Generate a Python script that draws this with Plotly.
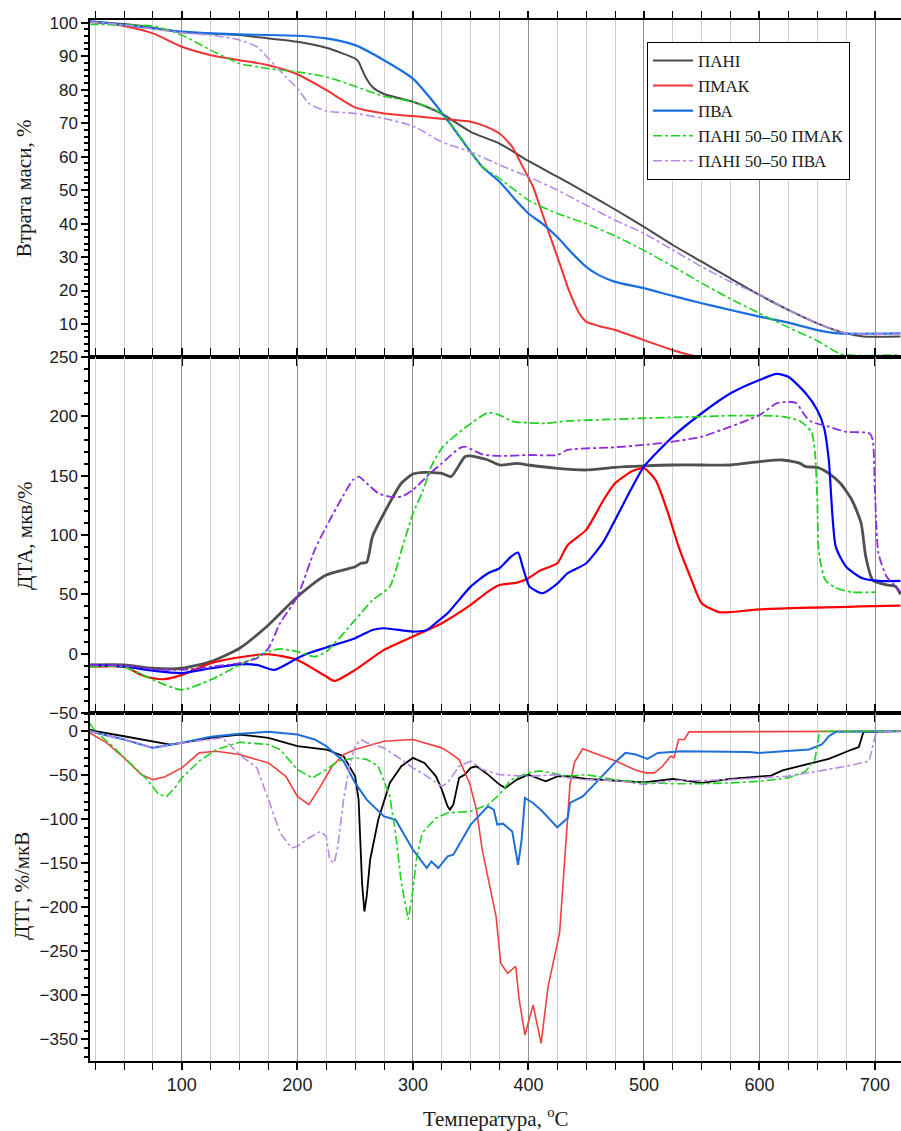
import plotly.graph_objects as go
from plotly.subplots import make_subplots

SERIES = ["ПАНІ", "ПМАК", "ПВА", "ПАНІ 50–50 ПМАК", "ПАНІ 50–50 ПВА"]

# ---------------- TG (mass loss, %) ----------------
TG_PANI_T = [20, 50, 75, 100, 150, 175, 200, 225, 250, 253, 256, 259, 265, 275, 300, 325, 350, 375, 400, 425, 450, 475, 500, 525, 550, 575, 600, 625, 650, 675, 690, 722]
TG_PANI = [100.3, 99.6, 98.5, 97.2, 96.3, 95.3, 94.3, 92.5, 89.3, 88.3, 86, 83.8, 80.8, 78.7, 76.4, 72.8, 67.4, 63.9, 58.7, 54, 49.2, 44.2, 39, 33.6, 28.6, 23.6, 18.7, 14.2, 10.2, 7.2, 6.3, 6.3]

TG_PMAK_T = [20, 35, 50, 75, 100, 125, 150, 175, 200, 225, 250, 275, 300, 331, 350, 360, 375, 386, 395, 404, 412, 418, 427, 435, 444, 450, 461, 475, 500, 525, 545, 620]
TG_PMAK = [100.2, 99.8, 99.0, 96.8, 92.8, 90.3, 88.8, 87.3, 84.6, 79.9, 74.7, 72.9, 72.1, 71.1, 70.4, 69.4, 66.9, 62.9, 57, 51, 43, 37, 28.1, 20.1, 13.2, 10.7, 9.4, 8.2, 5.2, 2.2, 0.4, 0.3]

TG_PVA_T = [20, 50, 75, 100, 125, 150, 200, 225, 250, 275, 300, 315, 332, 350, 360, 375, 389, 400, 412, 425, 438, 450, 461, 475, 500, 525, 550, 575, 600, 625, 650, 669, 722]
TG_PVA = [100.5, 99.3, 98.3, 97.3, 96.8, 96.5, 96.1, 95.3, 93.3, 88.8, 83.3, 77.5, 69.9, 61.4, 57, 52.5, 47, 43, 40, 36, 31.1, 27.1, 24.6, 22.6, 20.7, 18.4, 16.2, 14.2, 12.2, 10.4, 8.2, 7.2, 7.2]

TG_MIX1_T = [20, 50, 75, 100, 125, 150, 175, 200, 225, 250, 275, 300, 325, 337, 350, 360, 375, 400, 425, 450, 475, 500, 525, 550, 575, 600, 625, 650, 671, 722]
TG_MIX1 = [99.5, 99.3, 99, 96.3, 91.8, 87.8, 86.3, 85.3, 83.8, 81, 78, 76.4, 72.9, 67.9, 61.5, 57, 53.5, 47, 43, 40, 36.3, 32, 27.2, 22.2, 17.5, 13.2, 9, 5, 1, 0.8]

TG_MIX2_T = [20, 50, 100, 125, 150, 165, 175, 190, 200, 210, 225, 250, 275, 300, 325, 350, 375, 400, 425, 450, 475, 500, 525, 550, 575, 600, 625, 650, 675, 685, 722]
TG_MIX2 = [100.3, 99.3, 97, 96.3, 94.8, 92.8, 89.3, 83.8, 80.4, 75.9, 73.6, 72.9, 71.4, 69.1, 64.4, 61.4, 57.5, 54, 50, 45.5, 41, 37.1, 32.1, 27.1, 22.6, 18.7, 14.2, 10.2, 7.2, 7, 7]

# ---------------- DTA, мкВ/% ----------------
DTA_PANI_T = [20, 50, 75, 100, 125, 150, 175, 200, 225, 250, 255, 260, 265, 275, 290, 300, 310, 325, 333, 345, 350, 365, 375, 390, 400, 425, 450, 475, 500, 525, 550, 575, 600, 620, 635, 640, 650, 660, 670, 680, 688, 692, 698, 710, 718, 722]
DTA_PANI = [-9.5, -9.5, -12.3, -12.3, -6.7, 4.6, 24.2, 48, 66.3, 73.3, 76.2, 77, 98.6, 118.3, 143.6, 151.4, 152.8, 152, 149.2, 166, 166.6, 163.2, 159, 160.4, 159, 156.2, 154.8, 157, 158.2, 159, 159, 159, 161.8, 163.2, 160.4, 157.6, 157, 152, 143.6, 129.5, 109.9, 81.8, 62.1, 57.9, 56.5, 50]

DTA_PMAK_T = [20, 50, 65, 75, 85, 100, 125, 150, 175, 200, 225, 232, 250, 275, 300, 325, 350, 365, 375, 390, 400, 410, 425, 434, 450, 465, 475, 490, 500, 510, 520, 530, 540, 550, 565, 575, 600, 722]
DTA_PMAK = [-11, -11, -17.9, -20.7, -21.5, -17.9, -8, -3, -0.5, -5.3, -19.3, -23, -13.7, 3.2, 14.4, 25.7, 41.1, 52.3, 57.9, 59.9, 63.6, 70, 76.2, 91.6, 104.3, 129.5, 143.6, 154, 156.2, 146.4, 121, 90.2, 65, 42.5, 35, 35, 37.4, 40.5]

DTA_PVA_T = [20, 50, 75, 100, 125, 150, 165, 180, 200, 210, 225, 250, 265, 275, 300, 312, 320, 330, 350, 365, 375, 385, 391, 395, 401, 412, 425, 434, 450, 465, 475, 490, 500, 525, 550, 575, 600, 615, 625, 640, 650, 656, 660, 666, 675, 689, 703, 722]
DTA_PVA = [-9.5, -11, -14.3, -16.3, -12.3, -9, -9.5, -13.7, -3.8, 0.5, 5.2, 13, 20, 21.4, 18.6, 20, 26, 34, 56.5, 67.8, 72, 81.8, 85.2, 73.3, 56.5, 50.9, 59, 67.8, 76.2, 94.4, 112.7, 140.7, 157.6, 182.9, 202.6, 219.4, 230.6, 235.7, 233.4, 219.4, 205.3, 190, 163.2, 90.2, 73.3, 63.6, 61.3, 61.3]

DTA_MIX1_T = [20, 50, 75, 100, 125, 150, 175, 185, 200, 215, 225, 250, 265, 280, 291, 300, 309, 316, 326, 346, 365, 375, 387, 400, 415, 434, 475, 500, 550, 575, 600, 620, 635, 645, 648, 650, 651.5, 657, 666, 680, 700]
DTA_MIX1 = [-11, -11, -22, -30.5, -22, -9.5, 1.7, 4, 1.7, -2.5, 1.7, 28.4, 45, 56.5, 90, 118, 138, 158, 174.4, 191, 203, 201.1, 195.5, 194.6, 194.1, 196.1, 197.5, 198.4, 199.8, 200.6, 200.6, 199.8, 196.1, 187, 170, 130, 85, 62, 55.5, 51.8, 51.8]

DTA_MIX2_T = [20, 50, 75, 100, 125, 150, 165, 175, 185, 200, 215, 225, 240, 248, 253, 260, 270, 280, 290, 300, 315, 325, 340, 345, 360, 375, 400, 425, 434, 475, 500, 525, 550, 575, 600, 615, 625, 632, 640, 645, 660, 675, 695, 698, 700, 703, 710, 718, 722]
DTA_MIX2 = [-9.5, -10, -13, -13.7, -11, -8, -3.8, 4.6, 25.7, 48, 87.4, 107, 133.7, 146.4, 149.2, 143.6, 135.2, 132.3, 132.3, 138, 152, 160.4, 173, 174.4, 168, 166.6, 167.4, 167.4, 171.7, 173.9, 175.9, 178.6, 182.9, 191.3, 201.1, 211, 212.3, 211, 199.8, 195.5, 191.3, 187, 185.7, 180.1, 135, 84.6, 65, 56.5, 52]

# ---------------- DTG, %/мкВ ----------------
DTG_PANI_T = [20, 25, 50, 75, 90, 100, 125, 150, 175, 200, 225, 240, 250, 253, 256, 258, 260, 263, 270, 280, 290, 300, 310, 320, 325, 330, 332, 335, 340, 345, 350, 355, 365, 375, 380, 390, 400, 415, 425, 434, 450, 475, 500, 525, 550, 575, 600, 610, 620, 640, 660, 680, 686, 690, 722]
DTG_PANI = [2, 0, -5.7, -11.4, -15.1, -13.2, -7.5, -3.8, -7.5, -17, -20.8, -28.4, -51.2, -77.7, -172.5, -204.8, -187.7, -146, -100.5, -58.7, -39.8, -30.3, -36, -51.2, -66.3, -85.3, -89, -83.4, -53, -49.3, -41.6, -39.8, -49.3, -60.6, -64.4, -55, -49.3, -56.9, -51.2, -51, -54.2, -56.1, -58, -54.2, -58.7, -54.2, -51.9, -50.4, -44.4, -37.9, -31.4, -20.8, -18, -0.7, 0]

DTG_PMAK_T = [20, 35, 50, 65, 75, 85, 100, 115, 130, 150, 175, 190, 200, 210, 220, 230, 240, 250, 275, 300, 325, 332, 340, 349, 355, 360, 366, 372, 376, 382, 389, 392, 397, 404, 411, 417, 427, 430, 433.5, 436, 440, 447, 476, 493, 502, 509, 516, 523, 526, 530, 535, 539, 722]
DTG_PMAK = [-1.8, -13.2, -30.3, -49.3, -55, -51.9, -41.6, -24.6, -22.8, -26.5, -36, -51.2, -74, -83.4, -62.6, -39.8, -26.5, -20.8, -11.4, -9.4, -18.9, -24.6, -32.2, -58.7, -89, -134.6, -172.5, -210.5, -263.5, -275, -267, -305, -345, -311, -354.5, -290, -229, -170, -108, -60, -35, -20, -34, -44.4, -47.3, -47.3, -39.8, -28.4, -30, -9.4, -9.4, -0.7, 0]

DTG_PVA_T = [20, 50, 75, 100, 125, 150, 175, 200, 215, 225, 240, 250, 260, 275, 285, 300, 312, 316, 322, 330, 335, 350, 365, 370, 373, 378, 386, 391, 394, 397, 404, 412, 425, 434, 436, 447, 461, 476, 484, 493, 503, 512, 533, 562, 591, 600, 620, 643, 654, 660, 666, 722]
DTG_PVA = [0, -9.4, -18.9, -13.2, -6.4, -3, -0.7, -3.8, -9.4, -17, -34.1, -58.7, -77.7, -96.7, -100.5, -134.6, -155.4, -147.9, -155.4, -142.2, -140.3, -106.1, -85.3, -89, -106, -105, -113.8, -151.7, -125, -75.8, -81.5, -91, -109.2, -98.5, -81.5, -74, -55, -34, -24.6, -26.5, -31.4, -24.6, -22.8, -23.5, -23.5, -24.6, -22.8, -20.8, -15.1, -5.7, -0.7, 0]

DTG_MIX1_T = [20, 25, 40, 60, 70, 80, 87, 95, 100, 115, 130, 150, 175, 185, 200, 213, 225, 235, 250, 260, 270, 280, 285, 290, 296, 300, 303, 308, 320, 330, 350, 365, 375, 385, 400, 410, 425, 434, 450, 475, 500, 525, 550, 575, 600, 625, 640, 648, 652, 722]
DTG_MIX1 = [9.5, 0, -17, -41.6, -55, -72, -74, -62.6, -53, -34, -20.8, -12.5, -15.1, -20.8, -43.6, -53, -43.6, -34.1, -30.3, -32, -39.8, -74, -115.6, -172.5, -214, -180, -146, -115.6, -98.5, -92.8, -91, -83.4, -72, -55, -47.3, -45, -49.3, -51, -49.3, -55, -58.7, -59.6, -59.6, -58.7, -56.9, -53, -45.5, -32.2, 0, 0]

DTG_MIX2_T = [20, 50, 75, 100, 125, 135, 150, 165, 175, 185, 195, 200, 210, 220, 225, 228, 232, 235, 240, 245, 250, 255, 260, 275, 290, 300, 310, 325, 330, 340, 350, 360, 375, 400, 425, 434, 450, 475, 500, 525, 550, 575, 600, 625, 650, 675, 695, 700, 702, 722]
DTG_MIX2 = [0, -9.4, -18.9, -13.2, -9.4, -7.5, -26.5, -41.6, -77.7, -115.6, -132.7, -130.8, -121.3, -113.8, -119.5, -146, -149.7, -130.8, -77.7, -39.8, -17, -9.4, -13, -18.9, -32.2, -41.6, -49.3, -62.6, -58.7, -39.8, -34, -43.6, -49.3, -51.2, -49.3, -53, -55, -56, -60.6, -56, -56, -55, -53, -51, -45.5, -39.8, -34, -5.7, 0, 0]

Y_TITLES = ["Втрата маси, %", "ДТА, мкв/%", "ДТГ, %/мкВ"]
X_TITLE = "Температура, <sup>o</sup>C"

# styles per panel: (color, dash, width)
STYLE_TG = [("#4a4a4a", "solid", 2), ("#f03434", "solid", 2), ("#1a6fe0", "solid", 2.2),
            ("#1ed41e", "dashdot", 1.6), ("#b78ae8", "dashdot", 1.6)]
STYLE_DTA = [("#505050", "solid", 2.8), ("#ff0000", "solid", 2.2), ("#0000ff", "solid", 2.2),
             ("#1ed41e", "dashdot", 1.8), ("#8a2be2", "dashdot", 1.8)]
STYLE_DTG = [("#000000", "solid", 1.8), ("#f04040", "solid", 1.6), ("#1f6fd8", "solid", 2),
             ("#1ed41e", "dashdot", 1.6), ("#b78ae8", "dashdot", 1.6)]

TG = [(TG_PANI_T, TG_PANI), (TG_PMAK_T, TG_PMAK), (TG_PVA_T, TG_PVA), (TG_MIX1_T, TG_MIX1), (TG_MIX2_T, TG_MIX2)]
DTA = [(DTA_PANI_T, DTA_PANI), (DTA_PMAK_T, DTA_PMAK), (DTA_PVA_T, DTA_PVA), (DTA_MIX1_T, DTA_MIX1), (DTA_MIX2_T, DTA_MIX2)]
DTG = [(DTG_PANI_T, DTG_PANI), (DTG_PMAK_T, DTG_PMAK), (DTG_PVA_T, DTG_PVA), (DTG_MIX1_T, DTG_MIX1), (DTG_MIX2_T, DTG_MIX2)]

fig = make_subplots(rows=3, cols=1, shared_xaxes=False, vertical_spacing=0,
                    row_heights=[337, 356, 348])

for row, (data, styles, shape) in enumerate([(TG, STYLE_TG, "spline"), (DTA, STYLE_DTA, "spline"),
                                             (DTG, STYLE_DTG, "linear")], start=1):
    for i, ((t, v), (c, d, w)) in enumerate(zip(data, styles)):
        line = dict(color=c, dash=d, width=w, shape=shape)
        if shape == "spline":
            line["smoothing"] = 0.6
        fig.add_trace(go.Scatter(x=t, y=v, mode="lines", name=SERIES[i], line=line,
                                 showlegend=(row == 1)), row=row, col=1)

XR = [20.5, 722.5]
for r in (1, 2, 3):
    fig.update_xaxes(range=XR, showline=True, linecolor="black", linewidth=1.5, mirror="ticks",
                     ticks="outside", ticklen=7, tickwidth=1.5, tickcolor="black",
                     tick0=0, dtick=100, showgrid=True, gridcolor="#8f8f8f", gridwidth=1,
                     zeroline=False,
                     minor=dict(tick0=0, dtick=25, ticks="outside", ticklen=7, tickwidth=1.2,
                                tickcolor="black", showgrid=True, gridcolor="#d2d2d2", gridwidth=1),
                     showticklabels=(r == 3),
                     tickfont=dict(family="Liberation Sans", size=18, color="#1a1a1a"),
                     row=r, col=1)

yax_common = dict(showline=True, linecolor="black", linewidth=1.5, ticks="outside", ticklen=7,
                  tickwidth=1.5, tickcolor="black", showgrid=False, zeroline=False,
                  tickfont=dict(family="Liberation Sans", size=17, color="#1a1a1a"))
fig.update_yaxes(range=[0.15, 100.8], tickvals=[10, 20, 30, 40, 50, 60, 70, 80, 90, 100],
                 minor=dict(dtick=2, tick0=0, ticks="outside", ticklen=4, tickcolor="black"),
                 row=1, col=1, **yax_common)
fig.update_yaxes(range=[-50, 250], dtick=50, tick0=0,
                 minor=dict(dtick=10, tick0=0, ticks="outside", ticklen=4, tickcolor="black"),
                 row=2, col=1, **yax_common)
fig.update_yaxes(range=[-374.6, 20.7], dtick=50, tick0=0,
                 minor=dict(dtick=10, tick0=0, ticks="outside", ticklen=4, tickcolor="black"),
                 row=3, col=1, **yax_common)

title_font = dict(family="Liberation Serif", size=21, color="#1a1a1a")
ann = [
    dict(text=Y_TITLES[0], x=-0.081, y=0.8386, textangle=-90),
    dict(text=Y_TITLES[1], x=-0.081, y=0.5047, textangle=-90),
    dict(text=Y_TITLES[2], x=-0.084, y=0.168, textangle=-90),
    dict(text=X_TITLE, x=0.501, y=-0.0538, textangle=0),
]
for a in ann:
    fig.add_annotation(xref="paper", yref="paper", xanchor="center", yanchor="middle",
                       showarrow=False, font=title_font, **a)

fig.update_layout(
    width=901, height=1131,
    margin=dict(l=90, r=0, t=20, b=70),
    paper_bgcolor="white", plot_bgcolor="white",
    legend=dict(x=0.6868, y=0.979, xanchor="left", yanchor="top",
                bgcolor="white", bordercolor="black", borderwidth=1,
                font=dict(family="Liberation Serif", size=17, color="#1a1a1a"),
                tracegroupgap=0, itemwidth=40),
    showlegend=True,
)

fig.write_html("out.html",
               config={"displayModeBar": False},
               post_script="document.body.style.margin='0';document.body.style.padding='0';"
                           "document.body.style.overflow='hidden';"
                           "document.documentElement.style.overflow='hidden';")
